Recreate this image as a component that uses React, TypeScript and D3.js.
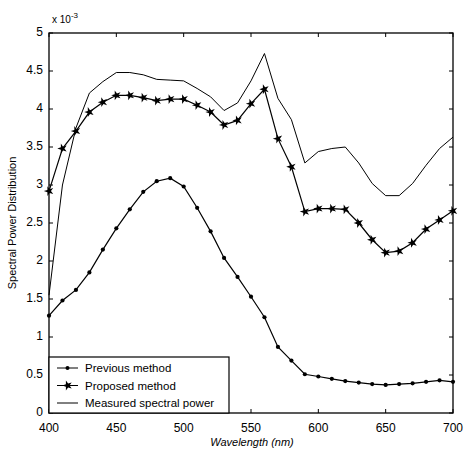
import React from "react";
import * as d3 from "d3";

const wavelengths = d3.range(400, 701, 10);
const previousMethod = [1.28, 1.48, 1.62, 1.85, 2.15, 2.43, 2.68, 2.91, 3.05, 3.09, 2.98, 2.7, 2.39, 2.04, 1.79, 1.53, 1.26, 0.87, 0.69, 0.51, 0.48, 0.45, 0.42, 0.4, 0.38, 0.37, 0.38, 0.39, 0.41, 0.43, 0.41];
const proposedMethod = [2.92, 3.48, 3.71, 3.96, 4.09, 4.18, 4.18, 4.15, 4.11, 4.13, 4.13, 4.05, 3.96, 3.79, 3.85, 4.07, 4.26, 3.61, 3.24, 2.65, 2.69, 2.69, 2.68, 2.5, 2.28, 2.11, 2.13, 2.24, 2.42, 2.54, 2.66];
const measuredPower = [1.55, 3.0, 3.75, 4.21, 4.36, 4.48, 4.48, 4.45, 4.39, 4.38, 4.37, 4.27, 4.16, 3.98, 4.08, 4.37, 4.73, 4.14, 3.86, 3.29, 3.44, 3.48, 3.5, 3.29, 3.02, 2.86, 2.86, 3.02, 3.26, 3.48, 3.63];
const xTicks = [400, 450, 500, 550, 600, 650, 700];
const yTicks = [0, 0.5, 1, 1.5, 2, 2.5, 3, 3.5, 4, 4.5, 5];
const legendLabels = ["Previous method", "Proposed method", "Measured spectral power"];

export default function App() {
  const W = 465, H = 457;
  const L = 49, R = 453, T = 33, B = 413;
  const x = d3.scaleLinear().domain([400, 700]).range([L, R]);
  const y = d3.scaleLinear().domain([0, 5]).range([B, T]);
  const line = d3.line<number>().x((_, i) => x(wavelengths[i])).y((d) => y(d));
  const star = d3.symbol().type(d3.symbolStar).size(30)() as string;
  const font = "'Liberation Sans', Arial, sans-serif";
  const tl = 4;
  return (
    <svg width={W} height={H} style={{ position: "absolute", left: 0, top: 0, background: "#fff" }} fontFamily={font}>
      <rect x={0} y={0} width={W} height={H} fill="#fff" />
      <path d={line(measuredPower) as string} fill="none" stroke="#000" strokeWidth={1} />
      <path d={line(proposedMethod) as string} fill="none" stroke="#000" strokeWidth={1.2} />
      <path d={line(previousMethod) as string} fill="none" stroke="#000" strokeWidth={1.2} />
      {proposedMethod.map((v, i) => (
        <path key={"s" + i} d={star} transform={`translate(${x(wavelengths[i])},${y(v)}) rotate(-18)`} fill="#000" />
      ))}
      {previousMethod.map((v, i) => (
        <circle key={"c" + i} cx={x(wavelengths[i])} cy={y(v)} r={2.1} fill="#000" />
      ))}
      <rect x={L} y={T} width={R - L} height={B - T} fill="none" stroke="#000" strokeWidth={1.3} />
      {xTicks.map((t) => (
        <g key={"x" + t}>
          <line x1={x(t)} x2={x(t)} y1={B} y2={B - tl} stroke="#000" />
          <line x1={x(t)} x2={x(t)} y1={T} y2={T + tl} stroke="#000" />
          <text x={x(t)} y={B + 19} fontSize={12} textAnchor="middle">{t}</text>
        </g>
      ))}
      {yTicks.map((t) => (
        <g key={"y" + t}>
          <line x1={L} x2={L + tl} y1={y(t)} y2={y(t)} stroke="#000" />
          <line x1={R} x2={R - tl} y1={y(t)} y2={y(t)} stroke="#000" />
          <text x={L - 6} y={y(t) + 3} fontSize={12} textAnchor="end">{t}</text>
        </g>
      ))}
      <text x={52} y={23} fontSize={10}>x 10<tspan dy={-5} fontSize={8}>-3</tspan></text>
      <text x={252} y={446} fontSize={11} textAnchor="middle" fontStyle="italic">Wavelength  (nm)</text>
      <text transform={`translate(16,${(T + B) / 2}) rotate(-90)`} fontSize={11} textAnchor="middle">Spectral Power Distribution</text>
      <rect x={L} y={357} width={180} height={B - 357} fill="#fff" stroke="#000" strokeWidth={1.2} />
      {legendLabels.map((lab, i) => {
        const ly = 368 + i * 17.5;
        return (
          <g key={lab}>
            <line x1={57} x2={78} y1={ly} y2={ly} stroke="#000" />
            {i === 0 && <circle cx={67.5} cy={ly} r={2} fill="#000" />}
            {i === 1 && <path d={star} transform={`translate(67.5,${ly}) rotate(-18)`} fill="#000" />}
            <text x={85} y={ly + 4} fontSize={11.5}>{lab}</text>
          </g>
        );
      })}
    </svg>
  );
}
